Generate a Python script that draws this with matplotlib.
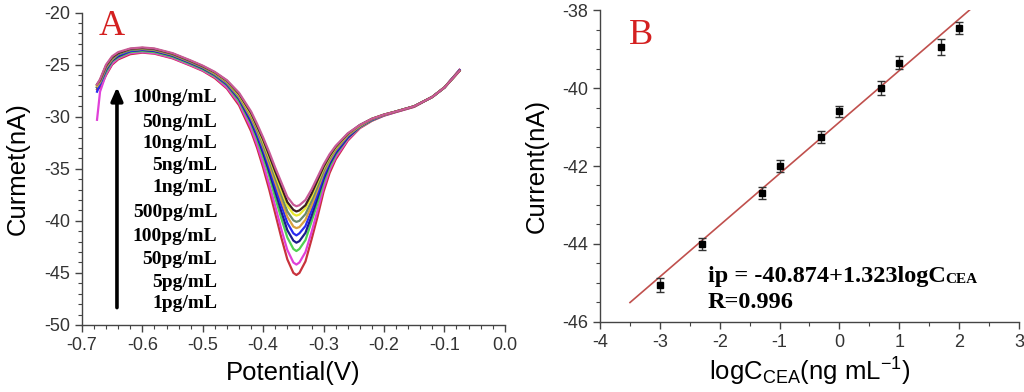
import numpy as np
import matplotlib
matplotlib.use("Agg")
import matplotlib.pyplot as plt
from matplotlib.ticker import MultipleLocator, FormatStrFormatter

plt.rcParams['font.family'] = ['Liberation Sans', 'DejaVu Sans']
plt.rcParams['mathtext.fontset'] = 'custom'
plt.rcParams['mathtext.rm'] = 'Liberation Sans'
plt.rcParams['mathtext.default'] = 'regular'
plt.rcParams['axes.unicode_minus'] = False

# ---- Panel A: square wave voltammograms ----
potential = [-0.675, -0.670, -0.660, -0.650, -0.640, -0.620, -0.600, -0.580, -0.550, -0.520,
             -0.500, -0.480, -0.460, -0.440, -0.420, -0.410, -0.400, -0.390, -0.380, -0.370,
             -0.360, -0.350, -0.345, -0.340, -0.330, -0.320, -0.310, -0.300, -0.290, -0.280,
             -0.260, -0.240, -0.220, -0.200, -0.180, -0.150, -0.120, -0.100, -0.075]

c_1pg = [-27.4, -27.2, -26.0, -25.0, -24.5, -24.0, -23.85, -23.95, -24.4, -25.1, -25.6, -26.3, -27.3,
         -28.9, -31.4, -33.0, -34.9, -37.0, -39.3, -41.6, -43.7, -45.0, -45.2, -45.0, -43.9, -41.8,
         -39.6, -37.2, -35.4, -34.1, -32.3, -31.1, -30.4, -29.9, -29.55, -29.05, -28.1, -27.2, -25.5]
c_5pg = [-30.3, -27.6, -25.9, -24.9, -24.4, -23.9, -23.8, -23.9, -24.35, -25.05, -25.55, -26.2, -27.2,
         -28.7, -31.1, -32.7, -34.5, -36.5, -38.6, -40.8, -42.8, -44.0, -44.2, -44.0, -43.0, -41.1,
         -39.0, -36.8, -35.1, -33.9, -32.2, -31.05, -30.35, -29.9, -29.55, -29.05, -28.1, -27.2, -25.5]
c_50pg = [-27.2, -26.9, -25.7, -24.7, -24.3, -23.8, -23.7, -23.8, -24.25, -24.95, -25.45, -26.1, -27.0,
          -28.5, -30.7, -32.2, -33.9, -35.7, -37.8, -39.75, -41.6, -42.7, -42.9, -42.7, -41.85, -40.1,
          -38.3, -36.3, -34.8, -33.65, -32.05, -31.0, -30.35, -29.85, -29.5, -29.0, -28.1, -27.2, -25.55]
c_100pg = [-27.2, -26.8, -25.5, -24.6, -24.2, -23.7, -23.6, -23.7, -24.15, -24.85, -25.35, -26.0, -26.9,
           -28.3, -30.5, -31.9, -33.5, -35.3, -37.2, -39.1, -40.9, -41.9, -42.1, -41.95, -41.15, -39.55,
           -37.8, -36.0, -34.55, -33.5, -32.0, -30.95, -30.3, -29.85, -29.5, -29.0, -28.1, -27.2, -25.55]
c_500pg = [-27.6, -26.9, -25.4, -24.5, -24.1, -23.7, -23.55, -23.65, -24.1, -24.8, -25.3, -25.95, -26.85,
           -28.2, -30.3, -31.7, -33.2, -34.9, -36.75, -38.5, -40.2, -41.2, -41.4, -41.2, -40.5, -39.0,
           -37.4, -35.7, -34.35, -33.35, -31.9, -30.9, -30.3, -29.85, -29.5, -29.0, -28.1, -27.2, -25.55]
c_1ng = [-27.1, -26.7, -25.3, -24.5, -24.0, -23.6, -23.5, -23.6, -24.05, -24.75, -25.25, -25.9, -26.75,
         -28.1, -30.1, -31.4, -32.9, -34.55, -36.3, -38.0, -39.6, -40.55, -40.7, -40.6, -39.9, -38.55,
         -37.0, -35.4, -34.2, -33.2, -31.8, -30.9, -30.25, -29.85, -29.5, -29.0, -28.1, -27.2, -25.6]
c_5ng = [-27.0, -26.6, -25.2, -24.4, -24.0, -23.6, -23.45, -23.55, -24.0, -24.7, -25.2, -25.85, -26.7,
         -28.0, -29.9, -31.2, -32.7, -34.2, -35.9, -37.5, -39.1, -39.95, -40.1, -40.0, -39.35, -38.1,
         -36.7, -35.2, -34.0, -33.1, -31.75, -30.85, -30.25, -29.8, -29.5, -29.0, -28.1, -27.2, -25.6]
c_10ng = [-27.0, -26.5, -25.1, -24.3, -23.9, -23.5, -23.4, -23.5, -23.95, -24.65, -25.15, -25.8, -26.6,
          -27.9, -29.8, -31.0, -32.4, -33.9, -35.5, -37.05, -38.55, -39.35, -39.5, -39.4, -38.8, -37.7,
          -36.3, -34.95, -33.85, -33.0, -31.7, -30.85, -30.2, -29.8, -29.5, -29.0, -28.1, -27.2, -25.6]
c_50ng = [-26.9, -26.5, -25.1, -24.3, -23.9, -23.5, -23.4, -23.5, -23.95, -24.65, -25.15, -25.75, -26.55,
          -27.8, -29.65, -30.9, -32.2, -33.7, -35.25, -36.7, -38.2, -38.95, -39.1, -39.0, -38.5, -37.4,
          -36.1, -34.8, -33.75, -32.9, -31.65, -30.8, -30.2, -29.8, -29.5, -29.0, -28.1, -27.2, -25.6]
c_100ng = [-26.9, -26.4, -25.0, -24.2, -23.8, -23.45, -23.35, -23.45, -23.9, -24.6, -25.1, -25.7, -26.5,
           -27.7, -29.5, -30.7, -32.0, -33.4, -34.9, -36.3, -37.7, -38.45, -38.6, -38.5, -38.0, -37.0,
           -35.8, -34.6, -33.6, -32.8, -31.6, -30.8, -30.2, -29.8, -29.5, -29.0, -28.1, -27.2, -25.6]

conc_labels = ['1pg/mL', '5pg/mL', '50pg/mL', '100pg/mL', '500pg/mL',
               '1ng/mL', '5ng/mL', '10ng/mL', '50ng/mL', '100ng/mL']
curves = [c_1pg, c_5pg, c_50pg, c_100pg, c_500pg, c_1ng, c_5ng, c_10ng, c_50ng, c_100ng]
curve_colors = ['#c8323c', '#e040d8', '#50d050', '#1c1c8c', '#2a2af0',
                '#d8a040', '#6a8a6a', '#e8e830', '#3a2020', '#c85a96']
label_y = [-47.9, -45.9, -43.7, -41.5, -39.2, -36.8, -34.7, -32.6, -30.6, -28.2]

# ---- Panel B: calibration ----
log_conc = [-3, -2.3, -1.3, -1, -0.3, 0, 0.7, 1, 1.7, 2]
peak_current = [-45.05, -44.0, -42.7, -42.0, -41.25, -40.6, -40.0, -39.35, -38.95, -38.45]
peak_err = [0.18, 0.15, 0.15, 0.15, 0.15, 0.15, 0.17, 0.17, 0.2, 0.15]
intercept = -40.874
slope = 1.323
fit_range = [-3.5, 2.18]

fig = plt.figure(figsize=(10.24, 3.92), dpi=100)
axA = fig.add_axes([0.080, 0.171, 0.413, 0.797])
axB = fig.add_axes([0.586, 0.179, 0.409, 0.795])

tick_color = '#333333'

for c, col in zip(curves, curve_colors):
    axA.plot(potential, c, color=col, lw=1.6, solid_joinstyle='round')

axA.set_xlim(-0.7, 0.0)
axA.set_ylim(-50, -20)
axA.xaxis.set_major_locator(MultipleLocator(0.1))
axA.xaxis.set_minor_locator(MultipleLocator(0.02))
axA.yaxis.set_major_locator(MultipleLocator(5))
axA.yaxis.set_minor_locator(MultipleLocator(1))
axA.xaxis.set_major_formatter(FormatStrFormatter('%.1f'))
axA.set_xlabel('Potential(V)', fontsize=18.5, labelpad=5)
axA.set_ylabel('Curmet(nA)', fontsize=18.5, labelpad=10)
axA.text(-0.673, -22.2, 'A', color='#d42020', fontsize=26, family='Liberation Serif')

for lab, y in zip(conc_labels, label_y):
    axA.text(-0.476, y, lab, ha='right', va='center', fontsize=14,
             family='Liberation Serif', fontweight='bold')
axA.annotate('', xy=(-0.642, -26.9), xytext=(-0.642, -48.6),
             arrowprops=dict(arrowstyle='-|>,head_length=0.8,head_width=0.35',
                             color='black', lw=2.6))

axB.errorbar(log_conc, peak_current, yerr=peak_err, fmt='s', color='black', ms=4.5,
             ecolor='#333333', elinewidth=1, capsize=3, capthick=1, zorder=3)
fit_y = [intercept + slope * x for x in fit_range]
axB.plot(fit_range, fit_y, color='#c0504d', lw=1.2, zorder=2)
axB.set_xlim(-4, 3)
axB.set_ylim(-46, -38)
axB.xaxis.set_major_locator(MultipleLocator(1))
axB.xaxis.set_minor_locator(MultipleLocator(0.5))
axB.yaxis.set_major_locator(MultipleLocator(2))
axB.yaxis.set_minor_locator(MultipleLocator(0.5))
axB.set_xlabel('logC$_{CEA}$(ng mL$^{-1}$)', fontsize=18.5, labelpad=4)
axB.set_ylabel('Current(nA)', fontsize=18.5, labelpad=10)
axB.text(-3.52, -38.88, 'B', color='#d42020', fontsize=26, family='Liberation Serif')

t1 = axB.text(-2.2, -44.97, 'ip = -40.874+1.323logC', fontsize=17.5,
              family='Liberation Serif', fontweight='bold', va='baseline')
axB.annotate('CEA', xy=(1, 0.2), xycoords=t1, fontsize=11, family='Liberation Serif',
             fontweight='bold', va='baseline', ha='left')
axB.text(-2.2, -45.65, 'R=0.996', fontsize=17.5, family='Liberation Serif',
         fontweight='bold', va='baseline')

for ax in (axA, axB):
    for side in ('top', 'right'):
        ax.spines[side].set_visible(False)
    for side in ('left', 'bottom'):
        ax.spines[side].set_color('#444444')
        ax.spines[side].set_linewidth(1.0)
    ax.tick_params(which='major', direction='out', length=5, width=1, colors='#444444',
                   labelcolor=tick_color, labelsize=13)
    ax.tick_params(which='minor', direction='out', length=3, width=0.8, colors='#444444')

fig.savefig('out.png', dpi=100)
